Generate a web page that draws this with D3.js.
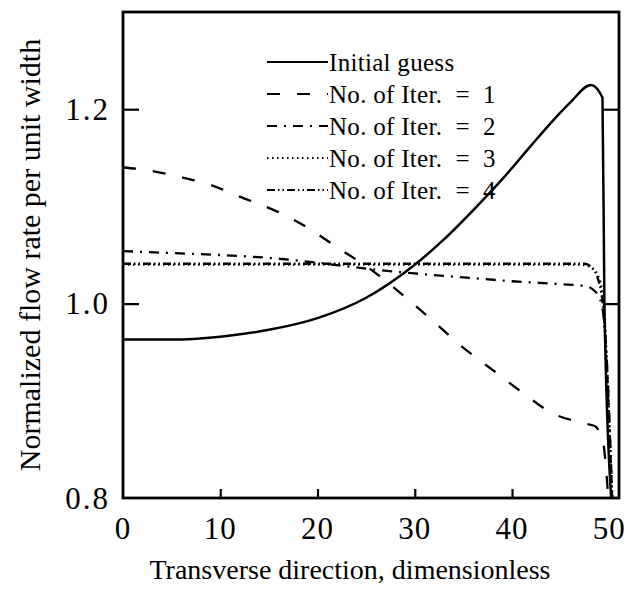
<!DOCTYPE html>
<html>
<head>
<meta charset="utf-8">
<script src="https://cdn.jsdelivr.net/npm/d3@7"></script>
<style>
  body { margin: 0; background: #fff; }
  text { font-family: "Liberation Serif", "DejaVu Serif", serif; fill: #000; }
</style>
</head>
<body>
<div id="chart"></div>
<script>
const svgWidth = 635;
const svgHeight = 606;

// plot box edges in the picture
const margin = { top: 12, right: 16, bottom: 108, left: 123 };
const width = svgWidth - margin.left - margin.right;
const height = svgHeight - margin.top - margin.bottom;

// data
const guessX = [0, 5, 10, 15, 20, 25, 30, 33, 36, 39, 42, 44, 46, 48.1, 49.3, 49.5, 50.2];
const guessY = [0.963, 0.963, 0.966, 0.973, 0.985, 1.006, 1.040, 1.066, 1.096, 1.128, 1.163, 1.186, 1.207, 1.225, 1.212, 1.0, 0.8];

const iter1X = [0, 2, 6, 9, 12, 16, 19, 22, 25.5, 28.5, 32, 34.7, 37.7, 41, 44, 47.3, 48.5, 49.4, 49.7, 49.9];
const iter1Y = [1.140, 1.138, 1.130, 1.122, 1.110, 1.094, 1.078, 1.058, 1.035, 1.011, 0.981, 0.957, 0.934, 0.909, 0.888, 0.877, 0.874, 0.855, 0.826, 0.8];

const iter2X = [0, 5, 10, 15, 20, 25, 30, 35, 40, 45, 47.5, 48.5, 49.2, 49.7, 50.3];
const iter2Y = [1.054, 1.052, 1.050, 1.047, 1.042, 1.036, 1.031, 1.027, 1.023, 1.020, 1.018, 1.013, 1.0, 0.95, 0.8];

const iter3X = [0, 10, 20, 30, 40, 47, 48, 49, 49.4, 50.3];
const iter3Y = [1.040, 1.040, 1.040, 1.040, 1.040, 1.040, 1.038, 1.025, 1.0, 0.8];

const iter4X = [0, 10, 20, 30, 40, 47.5, 48.3, 49.2, 50.3];
const iter4Y = [1.041, 1.041, 1.041, 1.041, 1.041, 1.041, 1.036, 1.01, 0.8];

const seriesNames = ["Initial guess", "No. of Iter. = 1", "No. of Iter. = 2", "No. of Iter. = 3", "No. of Iter. = 4"];
const dashes = [null, "13,17", "10,7,2,7", "1.5,3.5", "8,3,1.5,3,1.5,3"];

const xTicks = [0, 10, 20, 30, 40, 50];
const yTicks = [0.8, 1.0, 1.2];

const svg = d3.select("#chart")
  .append("svg")
  .attr("width", svgWidth)
  .attr("height", svgHeight);

const chartGroup = svg.append("g")
  .attr("transform", `translate(${margin.left}, ${margin.top})`);

const xScale = d3.scaleLinear().domain([0, 51]).range([0, width]);
const yScale = d3.scaleLinear().domain([0.8, 1.3]).range([height, 0]);

// inward ticks, no tick labels from the axis itself
const bottomAxis = d3.axisBottom(xScale).tickValues([10, 20, 30, 40]).tickSize(-9).tickFormat("");
const leftAxis = d3.axisLeft(yScale).tickValues([1.0, 1.2]).tickSize(-16).tickFormat("");
const rightAxis = d3.axisRight(yScale).tickValues([1.0, 1.2]).tickSize(-16).tickFormat("");

function styleAxis(g) {
  g.select(".domain").remove();
  g.selectAll(".tick line").attr("stroke", "#000").attr("stroke-width", 2.2);
}

chartGroup.append("g")
  .attr("transform", `translate(0, ${height})`)
  .call(bottomAxis)
  .call(styleAxis);

chartGroup.append("g")
  .call(leftAxis)
  .call(styleAxis);

chartGroup.append("g")
  .attr("transform", `translate(${width}, 0)`)
  .call(rightAxis)
  .call(styleAxis);

// plot frame
chartGroup.append("rect")
  .attr("x", 0)
  .attr("y", 0)
  .attr("width", width)
  .attr("height", height)
  .attr("fill", "none")
  .attr("stroke", "#000")
  .attr("stroke-width", 2.8);

// tick labels
chartGroup.selectAll(".xlab")
  .data(xTicks)
  .enter()
  .append("text")
  .attr("class", "xlab")
  .attr("x", d => xScale(d))
  .attr("y", height + 41)
  .attr("text-anchor", "middle")
  .style("font-size", "31px")
  .style("letter-spacing", "1px")
  .text(d => d);

chartGroup.selectAll(".ylab")
  .data(yTicks)
  .enter()
  .append("text")
  .attr("class", "ylab")
  .attr("x", -13)
  .attr("y", d => yScale(d))
  .attr("dy", "0.35em")
  .attr("text-anchor", "end")
  .style("font-size", "31px")
  .style("letter-spacing", "2px")
  .text(d => d3.format(".1f")(d));

// axis titles
svg.append("text")
  .attr("x", 350)
  .attr("y", 579)
  .attr("text-anchor", "middle")
  .style("font-size", "28px")
  .text("Transverse direction, dimensionless");

svg.append("text")
  .attr("transform", "translate(40, 255) rotate(-90)")
  .attr("text-anchor", "middle")
  .style("font-size", "30px")
  .text("Normalized flow rate per unit width");

// curves
const allSeries = [
  guessX.map((x, i) => [x, guessY[i]]),
  iter1X.map((x, i) => [x, iter1Y[i]]),
  iter2X.map((x, i) => [x, iter2Y[i]]),
  iter3X.map((x, i) => [x, iter3Y[i]]),
  iter4X.map((x, i) => [x, iter4Y[i]])
];

const line = d3.line()
  .x(d => xScale(d[0]))
  .y(d => yScale(d[1]))
  .curve(d3.curveMonotoneX);

chartGroup.selectAll(".curve")
  .data(allSeries)
  .enter()
  .append("path")
  .attr("class", "curve")
  .attr("d", line)
  .attr("fill", "none")
  .attr("stroke", "#000")
  .attr("stroke-width", (d, i) => i === 0 ? 2.5 : 2.3)
  .attr("stroke-dasharray", (d, i) => dashes[i]);

// legend
const legend = svg.append("g")
  .attr("transform", "translate(267, 62)");

const legendRows = legend.selectAll("g")
  .data(seriesNames)
  .enter()
  .append("g")
  .attr("transform", (d, i) => `translate(0, ${i * 32})`);

legendRows.append("line")
  .attr("x1", 0)
  .attr("x2", 61)
  .attr("y1", 0)
  .attr("y2", 0)
  .attr("stroke", "#000")
  .attr("stroke-width", 2.2)
  .attr("stroke-dasharray", (d, i) => dashes[i]);

legendRows.append("text")
  .attr("x", 62)
  .attr("y", 0)
  .attr("dy", "0.35em")
  .style("font-size", "25px")
  .style("letter-spacing", "0.3px")
  .style("white-space", "pre")
  .text(d => d.replace(" = ", "  =  "));
</script>
</body>
</html>
